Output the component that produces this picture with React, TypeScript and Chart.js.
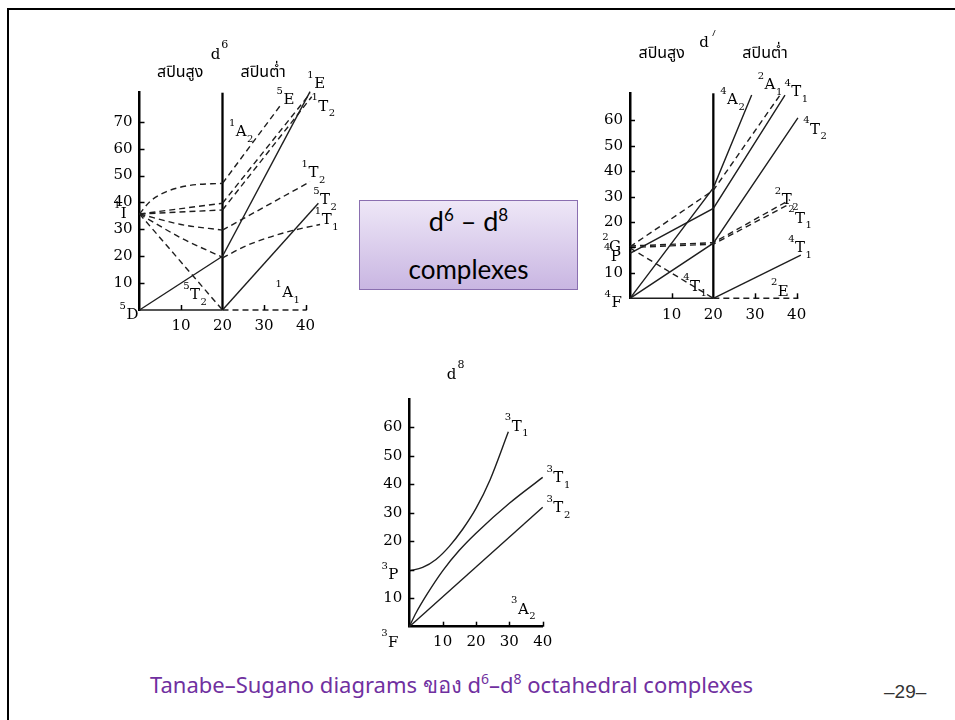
import React, { useEffect, useRef } from "react";
import { Chart, registerables } from "chart.js";

Chart.register(...registerables);

type P = [number, number];
type Term = [string, string, string, number, number]; // main, sup, sub, x, y (data units)

// ---------------- d6 ----------------
const d6XTicks = [10, 20, 30, 40];
const d6XTickMarks = [10, 30, 40];
const d6YTicks = [10, 20, 30, 40, 50, 60, 70];
const d6YTickLabels = ["10", "20", "30", "40", "50", "60", "70"];

const d6Divider: P[] = [[20, 0], [20, 80.8]];
const d6GroundHS: P[] = [[0, 0], [20, 0]];
const d6GroundLS: P[] = [[20, 0], [40.3, 0]];
const d6_5E_HS: P[] = [[0, 0], [20, 20]];
const d6_5E_LS: P[] = [[20, 20], [41.1, 81.2]];
const d6_5T2_LS: P[] = [[20, 0], [43.1, 39.7]];
const d6_1I_a: P[] = [[0, 35.7], [2.5, 40.3], [6.5, 44], [12, 46.3], [20, 47.1]];
const d6_1I_b: P[] = [[0, 35.7], [20, 39.7]];
const d6_1I_c: P[] = [[0, 35.7], [20, 37.2]];
const d6_1I_d: P[] = [[0, 35.7], [10, 31.8], [20, 29.7]];
const d6_1I_e: P[] = [[0, 35.7], [10, 26.8], [20, 19.6]];
const d6_1I_f: P[] = [[0, 35.7], [20, 0]];
const d6_5E_dash: P[] = [[20, 47.1], [34.3, 76.8]];
const d6_1E: P[] = [[20, 39.7], [41.1, 80.5]];
const d6_1T2_top: P[] = [[20, 37.2], [41.5, 79.3]];
const d6_1T2_mid: P[] = [[20, 29.7], [41.1, 47.7]];
const d6_1T1: P[] = [[20, 19.3], [25, 23.4], [30.6, 26.7], [37, 29.6], [43.5, 31.8]];

const d6Terms: Term[] = [
  ["E", "1", "", 43.4, 84.0],
  ["E", "5", "", 36.0, 78.1],
  ["T", "1", "2", 44.3, 75.6],
  ["A", "1", "2", 24.5, 66.0],
  ["T", "1", "2", 41.9, 50.8],
  ["T", "5", "2", 44.7, 40.9],
  ["T", "1", "1", 45.1, 33.5],
  ["I", "1", "", -3.8, 35.7],
  ["D", "5", "", -1.7, -1.9],
  ["T", "5", "2", 13.4, 5.6],
  ["A", "1", "1", 35.7, 6.2],
];
const d6Title: Term = ["d", "6", "", 18.3, 94.8];
const d6SpinLabels: [string, number, number][] = [
  ["สปินสูง", 9.8, 88],
  ["สปินต่ำ", 29.8, 88],
];

// ---------------- d7 ----------------
const d7XTicks = [10, 20, 30, 40];
const d7XTickMarks = [10, 30, 40];
const d7YTicks = [10, 20, 30, 40, 50, 60, 70];
const d7YTickLabels = ["10", "", "20", "30", "40", "50", "60"];

const d7Divider: P[] = [[20, 0], [20, 80.7]];
const d7GroundHS: P[] = [[0, 0], [20, 0]];
const d7_2E: P[] = [[20, 0], [40.4, 0]];
const d7_4A2: P[] = [[0, 0], [20, 43.5], [29.2, 80]];
const d7_4T1P: P[] = [[0, 17.7], [20, 35.4], [37.2, 80]];
const d7_4T2: P[] = [[0, 0], [20, 21.7], [40.3, 71]];
const d7_2A1: P[] = [[0, 20.3], [20, 42.5], [36, 80]];
const d7_2T2: P[] = [[0, 20.6], [20, 21.9], [38.4, 38.8]];
const d7_2T1: P[] = [[0, 20.0], [20, 21.3], [38.4, 37.2]];
const d7_2E_HS: P[] = [[0, 19.8], [20, 0]];
const d7_4T1_LS: P[] = [[20, 0], [41, 17]];

const d7Terms: Term[] = [
  ["A", "4", "2", 24.6, 77.9],
  ["A", "2", "1", 33.6, 83.9],
  ["T", "4", "1", 39.9, 81.0],
  ["T", "4", "2", 44.4, 66.3],
  ["T", "2", "2", 37.6, 38.7],
  ["T", "2", "1", 40.8, 31.3],
  ["T", "4", "1", 40.8, 19.7],
  ["E", "2", "", 36.8, 2.6],
  ["T", "4", "1", 15.6, 4.6],
  ["G", "2", "", -3.6, 20.3],
  ["P", "4", "", -3.4, 16.4],
  ["F", "4", "", -3.2, -2.0],
];
const d7Title: Term = ["d", "7", "", 17.8, 100.4];
const d7SpinLabels: [string, number, number][] = [
  ["สปินสูง", 7.6, 95.8],
  ["สปินต่ำ", 32.4, 95.8],
];

// ---------------- d8 ----------------
const d8XTicks = [10, 20, 30, 40];
const d8XTickMarks = [10, 20, 30, 40];
const d8YTicks = [10, 20, 30, 40, 50, 60, 70];
const d8YTickLabels = ["10", "", "20", "30", "40", "50", "60"];

const d8_3T1P: P[] = [[0, 19.6], [4, 20.8], [8, 23.6], [12, 28.2], [16, 34.2], [20, 41.5], [24.2, 51.5], [29.7, 68.4]];
const d8_3T1F: P[] = [[0, 0], [2, 4.8], [5, 10.8], [10, 19.6], [15, 26.8], [20, 32.8], [30, 43.3], [40, 52.4]];
const d8_3T2: P[] = [[0, 0], [40, 41.9]];

const d8Terms: Term[] = [
  ["T", "3", "1", 32.2, 70.2],
  ["T", "3", "1", 44.7, 52.1],
  ["T", "3", "2", 44.7, 41.5],
  ["P", "3", "", -4.8, 18.1],
  ["F", "3", "", -4.8, -5.6],
  ["A", "3", "2", 34.2, 5.9],
];
const d8Title: Term = ["d", "8", "", 12.7, 88.3];

// ---------------- rendering ----------------
type Style = "solid" | "dash" | "divider";
type Series = { pts: P[]; style: Style; curve?: boolean };

type Spec = {
  left: number; top: number; width: number; height: number;
  yAxisWidth: number; xAxisHeight: number; padTop: number; padRight: number;
  xMax: number; yMax: number;
  xTicks: number[]; xTickMarks: number[]; yTicks: number[]; yTickLabels: string[];
  xLabelPad: number; xBorder: boolean;
  series: Series[]; terms: Term[]; title: Term; spin: [string, number, number][];
};

const SERIF = '"DejaVu Serif", "Liberation Serif", serif';
const THAI = '"Noto Sans Thai", "Noto Sans Thai Looped", "Loma", "Noto Sans", "DejaVu Sans", sans-serif';

function makePlugin(spec: Spec) {
  return {
    id: "termLabels",
    afterDatasetsDraw(chart: any) {
      const { ctx } = chart;
      const xs = chart.scales.x;
      const ys = chart.scales.y;
      ctx.save();
      ctx.fillStyle = "#000";
      ctx.strokeStyle = "#000";
      // inside tick marks
      ctx.lineWidth = 1.5;
      const x0 = xs.getPixelForValue(0);
      const y0 = ys.getPixelForValue(0);
      spec.yTicks.forEach((v) => {
        const py = Math.round(ys.getPixelForValue(v)) + 0.5;
        ctx.beginPath();
        ctx.moveTo(x0, py);
        ctx.lineTo(x0 + 5, py);
        ctx.stroke();
      });
      spec.xTickMarks.forEach((v) => {
        const px = Math.round(xs.getPixelForValue(v)) + 0.5;
        ctx.beginPath();
        ctx.moveTo(px, y0);
        ctx.lineTo(px, y0 - 5);
        ctx.stroke();
      });
      // term symbols
      const drawTerm = (t: Term, supAfter: boolean) => {
        const [main, sup, sub, x, y] = t;
        const px = xs.getPixelForValue(x);
        const py = ys.getPixelForValue(y);
        ctx.font = `15px ${SERIF}`;
        ctx.textBaseline = "middle";
        ctx.textAlign = "center";
        const w = ctx.measureText(main).width;
        ctx.fillText(main, px, py);
        ctx.font = `10px ${SERIF}`;
        if (sup) {
          if (supAfter) {
            ctx.font = `11px ${SERIF}`;
            ctx.textAlign = "left";
            ctx.fillText(sup, px + w / 2 + 1, py - 10);
          } else {
            ctx.textAlign = "right";
            ctx.fillText(sup, px - w / 2 - 0.5, py - 9);
          }
        }
        if (sub) {
          ctx.font = `10px ${SERIF}`;
          ctx.textAlign = "left";
          ctx.fillText(sub, px + w / 2 + 0.5, py + 7);
        }
      };
      spec.terms.forEach((t) => drawTerm(t, false));
      drawTerm(spec.title, true);
      ctx.font = `16px ${THAI}`;
      ctx.textAlign = "center";
      ctx.textBaseline = "middle";
      spec.spin.forEach(([s, x, y]) => {
        ctx.fillText(s, xs.getPixelForValue(x), ys.getPixelForValue(y));
      });
      ctx.restore();
    },
  };
}

function Diagram({ spec }: { spec: Spec }) {
  const ref = useRef<HTMLCanvasElement | null>(null);
  useEffect(() => {
    if (!ref.current) return;
    const datasets = spec.series.map((s) => ({
      data: s.pts.map(([x, y]) => ({ x, y })),
      showLine: true,
      pointRadius: 0,
      borderColor: s.style === "divider" ? "#000" : "#1e1e1e",
      borderWidth: s.style === "divider" ? 2.3 : 1.4,
      borderDash: s.style === "dash" ? [6, 4] : [],
      cubicInterpolationMode: s.curve ? ("monotone" as const) : ("default" as const),
      tension: 0,
      clip: false as any,
    }));
    const tickFont = { family: SERIF, size: 15 };
    const chart = new Chart(ref.current, {
      type: "scatter",
      data: { datasets },
      options: {
        animation: false,
        responsive: false,
        maintainAspectRatio: false,
        layout: { padding: { left: 0, top: spec.padTop, right: spec.padRight, bottom: 0 } },
        plugins: { legend: { display: false }, tooltip: { enabled: false } },
        scales: {
          x: {
            type: "linear",
            min: 0,
            max: spec.xMax,
            afterBuildTicks: (ax: any) => {
              ax.ticks = spec.xTicks.map((v) => ({ value: v }));
            },
            afterFit: (ax: any) => {
              ax.height = spec.xAxisHeight;
            },
            grid: { display: false, drawTicks: false },
            border: { display: spec.xBorder, width: 2.5, color: "#000" },
            ticks: {
              font: tickFont,
              color: "#000",
              padding: spec.xLabelPad,
              maxRotation: 0,
              autoSkip: false,
              callback: (v: any) => String(v),
            },
          },
          y: {
            type: "linear",
            min: 0,
            max: spec.yMax,
            afterBuildTicks: (ax: any) => {
              ax.ticks = spec.yTicks.map((v) => ({ value: v }));
            },
            afterFit: (ax: any) => {
              ax.width = spec.yAxisWidth;
            },
            grid: { display: false, drawTicks: false },
            border: { display: true, width: 2.5, color: "#000" },
            ticks: {
              font: tickFont,
              color: "#000",
              padding: 7,
              autoSkip: false,
              callback: (_v: any, i: number) => spec.yTickLabels[i],
            },
          },
        },
      },
      plugins: [makePlugin(spec)],
    } as any);
    return () => chart.destroy();
  }, [spec]);
  return (
    <canvas
      ref={ref}
      width={spec.width}
      height={spec.height}
      style={{ position: "absolute", left: spec.left, top: spec.top, width: spec.width, height: spec.height }}
    />
  );
}

const d6Spec: Spec = {
  left: 100, top: 30, width: 250, height: 310,
  yAxisWidth: 39.5, xAxisHeight: 30, padTop: 62.7, padRight: 19.6,
  xMax: 46, yMax: 80.8,
  xTicks: d6XTicks, xTickMarks: d6XTickMarks, yTicks: d6YTicks, yTickLabels: d6YTickLabels,
  xLabelPad: 7, xBorder: false,
  series: [
    { pts: d6GroundHS, style: "solid" },
    { pts: d6GroundLS, style: "dash" },
    { pts: d6_5E_HS, style: "solid" },
    { pts: d6_5E_LS, style: "solid" },
    { pts: d6_5T2_LS, style: "solid" },
    { pts: d6_1I_a, style: "dash", curve: true },
    { pts: d6_1I_b, style: "dash" },
    { pts: d6_1I_c, style: "dash" },
    { pts: d6_1I_d, style: "dash", curve: true },
    { pts: d6_1I_e, style: "dash", curve: true },
    { pts: d6_1I_f, style: "dash" },
    { pts: d6_5E_dash, style: "dash" },
    { pts: d6_1E, style: "dash" },
    { pts: d6_1T2_top, style: "dash" },
    { pts: d6_1T2_mid, style: "dash" },
    { pts: d6_1T1, style: "dash", curve: true },
    { pts: d6Divider, style: "divider" },
  ],
  terms: d6Terms, title: d6Title, spin: d6SpinLabels,
};

const d7Spec: Spec = {
  left: 590, top: 30, width: 250, height: 300,
  yAxisWidth: 40, xAxisHeight: 31.7, padTop: 63.3, padRight: 35,
  xMax: 42, yMax: 80.7,
  xTicks: d7XTicks, xTickMarks: d7XTickMarks, yTicks: d7YTicks, yTickLabels: d7YTickLabels,
  xLabelPad: 8, xBorder: false,
  series: [
    { pts: d7GroundHS, style: "solid" },
    { pts: d7_2E, style: "dash" },
    { pts: d7_4A2, style: "solid" },
    { pts: d7_4T1P, style: "solid" },
    { pts: d7_4T2, style: "solid" },
    { pts: d7_2A1, style: "dash" },
    { pts: d7_2T2, style: "dash" },
    { pts: d7_2T1, style: "dash" },
    { pts: d7_2E_HS, style: "dash" },
    { pts: d7_4T1_LS, style: "solid" },
    { pts: d7Divider, style: "divider" },
  ],
  terms: d7Terms, title: d7Title, spin: d7SpinLabels,
};

const d8Spec: Spec = {
  left: 360, top: 350, width: 240, height: 310,
  yAxisWidth: 49.3, xAxisHeight: 33.3, padTop: 49.3, padRight: 57.3,
  xMax: 40, yMax: 79.8,
  xTicks: d8XTicks, xTickMarks: d8XTickMarks, yTicks: d8YTicks, yTickLabels: d8YTickLabels,
  xLabelPad: 6, xBorder: true,
  series: [
    { pts: d8_3T1P, style: "solid", curve: true },
    { pts: d8_3T1F, style: "solid", curve: true },
    { pts: d8_3T2, style: "solid" },
  ],
  terms: d8Terms, title: d8Title, spin: [],
};

export default function App() {
  return (
    <div style={{ position: "fixed", left: 0, top: 0, width: 955, height: 720, overflow: "hidden", background: "#fff" }}>
      <div
        style={{
          position: "absolute", left: 7, top: 8, width: 2000, height: 2000,
          borderTop: "2.5px solid #000", borderLeft: "2.5px solid #000",
        }}
      />
      <Diagram spec={d6Spec} />
      <Diagram spec={d7Spec} />
      <Diagram spec={d8Spec} />
      <div
        style={{
          position: "absolute", left: 359, top: 200, width: 219, height: 90, boxSizing: "border-box",
          border: "1px solid #8a6fb0", background: "linear-gradient(#eee7f7, #c9b6e2)",
          fontFamily: 'Lato, "Open Sans", sans-serif', color: "#000", textAlign: "center",
        }}
      >
        <div style={{ position: "absolute", left: 0, right: 0, top: 4, height: 32, lineHeight: "32px", fontSize: 27 }}>
          d<sup style={{ fontSize: 17, verticalAlign: "10px", lineHeight: 0 }}>6</sup> – d
          <sup style={{ fontSize: 17, verticalAlign: "10px", lineHeight: 0 }}>8</sup>
        </div>
        <div style={{ position: "absolute", left: 0, right: 0, top: 52, height: 32, lineHeight: "32px", fontSize: 26 }}>
          complexes
        </div>
      </div>
      <div
        style={{
          position: "absolute", left: 150, top: 669, whiteSpace: "nowrap", fontSize: 22,
          fontFamily: '"Noto Sans", Lato, sans-serif', color: "#7030a0", lineHeight: "30px",
        }}
      >
        Tanabe–Sugano diagrams ของ d
        <sup style={{ fontSize: 14, verticalAlign: "9px", lineHeight: 0 }}>6</sup>–d
        <sup style={{ fontSize: 14, verticalAlign: "9px", lineHeight: 0 }}>8</sup> octahedral complexes
      </div>
      <div
        style={{
          position: "absolute", left: 884, top: 679, fontSize: 19, whiteSpace: "nowrap",
          fontFamily: '"Liberation Sans Narrow", "Liberation Sans", sans-serif', color: "#333", lineHeight: "26px",
        }}
      >
        –29–
      </div>
    </div>
  );
}
